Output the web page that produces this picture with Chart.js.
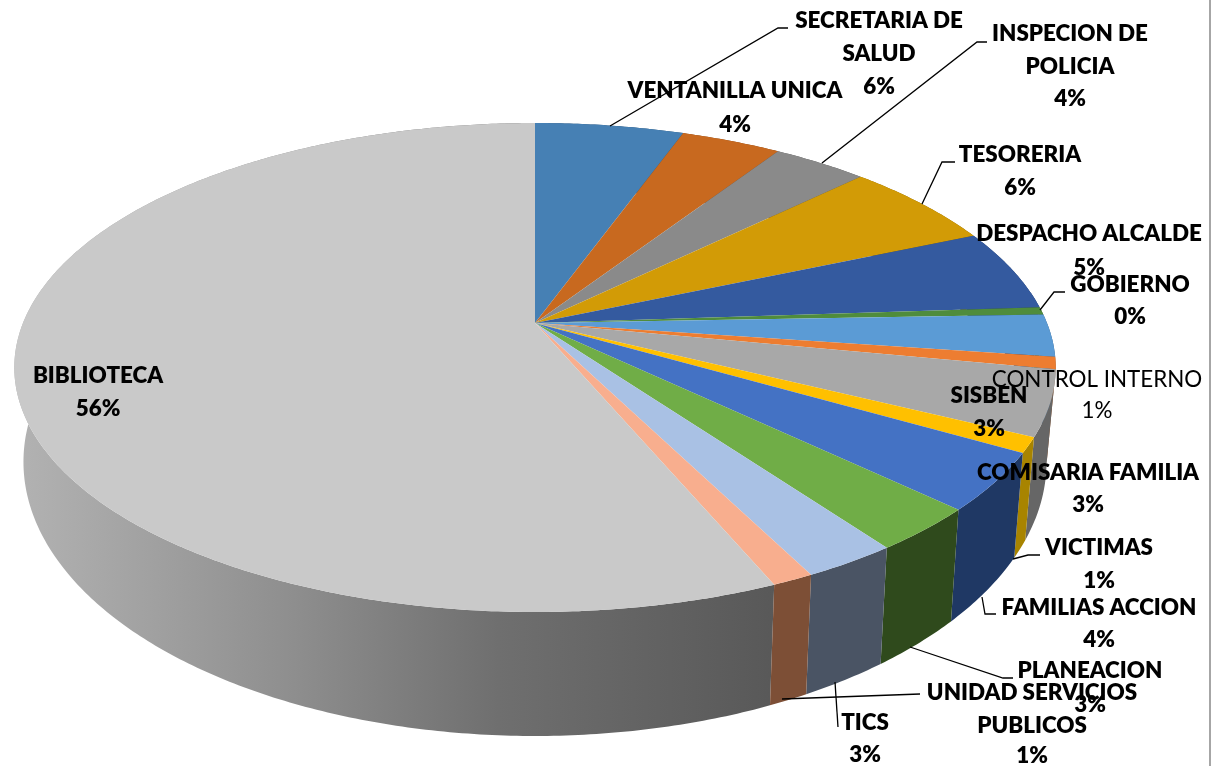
<!DOCTYPE html>
<html>
<head>
<meta charset="utf-8">
<title>Pie</title>
<script src="https://cdn.jsdelivr.net/npm/chart.js@4"></script>
<style>
  html, body { margin: 0; padding: 0; background: #fff; }
  canvas { display: block; }
</style>
</head>
<body>
<canvas id="pie3d" width="1220" height="766"></canvas>
<script>
// dependencias, en el orden del grafico (horario desde arriba)
var dependencias = ['SECRETARIA DE SALUD', 'VENTANILLA UNICA', 'INSPECION DE POLICIA', 'TESORERIA',
    'DESPACHO ALCALDE', 'GOBIERNO', 'COMISARIA FAMILIA', 'CONTROL INTERNO', 'SISBEN', 'VICTIMAS',
    'FAMILIAS ACCION', 'PLANEACION', 'TICS', 'UNIDAD SERVICIOS PUBLICOS', 'BIBLIOTECA'];
// share of each slice
var valores = [5.5, 3.7, 3.5, 5.8, 5.4, 0.5, 2.8, 0.8, 4.3, 1.0, 3.8, 2.9, 2.5, 1.1, 56.3];
// the percentage printed on each label
var porcentajes = ['6%', '4%', '4%', '6%', '5%', '0%', '3%', '1%', '3%', '1%', '4%', '3%', '3%', '1%', '56%'];
var colores = ['#4680b4', '#c8691f', '#8a8a8a', '#d29b06', '#345a9f', '#4f8c3c', '#5b9bd5', '#ed7d31',
    '#a8a8a8', '#ffc000', '#4472c4', '#70ad47', '#a9c1e4', '#f8ae8e', '#c9c9c9'];
var coloresLado = ['#2c4f70', '#7c4013', '#555555', '#826004', '#203864', '#31572a', '#385f84', '#934e1e',
    '#666666', '#a88400', '#1f3864', '#2f4a1c', '#4a5464', '#7d4f36', '#7d7d7d'];

// etiquetas: lines of text, centre x, baselines
var etiquetas = [
    { lineas: ['SECRETARIA DE', 'SALUD'], x: 879, y: [28, 61, 94] },
    { lineas: ['VENTANILLA UNICA'], x: 735, y: [98, 132] },
    { lineas: ['INSPECION DE', 'POLICIA'], x: 1070, y: [41, 74, 106] },
    { lineas: ['TESORERIA'], x: 1020, y: [162, 195] },
    { lineas: ['DESPACHO ALCALDE'], x: 1089, y: [241, 275] },
    { lineas: ['GOBIERNO'], x: 1130, y: [292, 324] },
    { lineas: ['COMISARIA FAMILIA'], x: 1088, y: [480, 512] },
    { lineas: ['CONTROL INTERNO'], x: 1097, y: [387, 418], normal: true },
    { lineas: ['SISBEN'], x: 989, y: [403, 436] },
    { lineas: ['VICTIMAS'], x: 1099, y: [555, 588] },
    { lineas: ['FAMILIAS ACCION'], x: 1099, y: [615, 647] },
    { lineas: ['PLANEACION'], x: 1090, y: [678, 712] },
    { lineas: ['TICS'], x: 865, y: [730, 762] },
    { lineas: ['UNIDAD SERVICIOS', 'PUBLICOS'], x: 1032, y: [700, 733, 763] },
    { lineas: ['BIBLIOTECA'], x: 98, y: [383, 416] }
];
// lineas guia
var guias = [
    [[610, 126], [778, 28], [788, 28]],
    [[822, 163], [977, 42], [987, 42]],
    [[922, 204], [942, 162], [955, 162]],
    [[1040, 310], [1054, 292], [1065, 292]],
    [[1013, 559], [1028, 555], [1040, 555]],
    [[982, 597], [985, 614], [996, 614]],
    [[910, 647], [1003, 678], [1013, 678]],
    [[835, 682], [838, 727]],
    [[782, 699], [920, 694]]
];

// perspective of the top and bottom rings, relative to the arc radius
var K = 0.182;
var anilloSup = { a: 512 / 323, b: 236.4 / 323, dy: 0 };
var anilloInf = { a: 503 / 323, b: 265 / 323, dy: 89 };

function proyectar(el, anillo, ang) {
    var u = Math.cos(ang), v = Math.sin(ang), d = 1 - K * v;
    return {
        x: el.x + anillo.a * el.outerRadius * u / d,
        y: el.y + anillo.dy + anillo.b * el.outerRadius * v / d
    };
}

function trazarAnillo(ctx, el, anillo, desde, hasta) {
    var pasos = Math.max(2, Math.ceil(Math.abs(hasta - desde) / 0.01));
    for (var i = 0; i <= pasos; i++) {
        var p = proyectar(el, anillo, desde + (hasta - desde) * i / pasos);
        ctx.lineTo(p.x, p.y);
    }
}

var pie3d = {
    id: 'pie3d',
    beforeDatasetDraw: function (chart, args) {
        var ctx = chart.ctx;
        var arcos = args.meta.data;

        // lados: de atras hacia adelante
        var orden = arcos.map(function (el, i) { return i; }).sort(function (p, q) {
            return Math.sin((arcos[p].startAngle + arcos[p].endAngle) / 2) -
                Math.sin((arcos[q].startAngle + arcos[q].endAngle) / 2);
        });
        orden.forEach(function (i) {
            var el = arcos[i];
            ctx.beginPath();
            trazarAnillo(ctx, el, anilloSup, el.startAngle, el.endAngle);
            trazarAnillo(ctx, el, anilloInf, el.endAngle, el.startAngle);
            ctx.closePath();
            if (i === arcos.length - 1) {
                var g = ctx.createLinearGradient(20, 0, 780, 0);
                g.addColorStop(0, '#b2b2b2');
                g.addColorStop(0.36, '#8e8e8e');
                g.addColorStop(0.63, '#6f6f6f');
                g.addColorStop(1, '#585858');
                ctx.fillStyle = g;
            } else {
                ctx.fillStyle = coloresLado[i];
            }
            ctx.fill();
        });

        // cara superior
        arcos.forEach(function (el) {
            ctx.beginPath();
            ctx.moveTo(el.x, el.y);
            trazarAnillo(ctx, el, anilloSup, el.startAngle, el.endAngle);
            ctx.closePath();
            ctx.fillStyle = el.options.backgroundColor;
            ctx.fill();
        });
        return false;
    },
    afterDatasetsDraw: function (chart) {
        var ctx = chart.ctx;
        ctx.save();
        // borde derecho del grafico
        ctx.strokeStyle = '#a6a6a6';
        ctx.lineWidth = 2;
        ctx.beginPath();
        ctx.moveTo(1210, 0);
        ctx.lineTo(1210, 766);
        ctx.stroke();

        ctx.strokeStyle = '#000';
        ctx.lineWidth = 1.3;
        guias.forEach(function (g) {
            ctx.beginPath();
            g.forEach(function (p, i) { if (i) ctx.lineTo(p[0], p[1]); else ctx.moveTo(p[0], p[1]); });
            ctx.stroke();
        });
        ctx.fillStyle = '#000';
        ctx.textAlign = 'center';
        ctx.textBaseline = 'alphabetic';
        etiquetas.forEach(function (e, i) {
            ctx.font = (e.normal ? '400 ' : '800 ') + '22.4px Lato';
            e.lineas.concat(porcentajes[i]).forEach(function (t, j) {
                ctx.fillText(t, e.x, e.y[j]);
            });
        });
        ctx.restore();
    }
};

new Chart(document.getElementById('pie3d').getContext('2d'), {
    type: 'pie',
    data: {
        labels: dependencias,
        datasets: [{ data: valores, backgroundColor: colores, borderWidth: 0 }]
    },
    options: {
        responsive: false,
        animation: false,
        layout: { padding: { left: 0, right: 150, top: 0, bottom: 120 } },
        plugins: { legend: { display: false }, tooltip: { enabled: false } }
    },
    plugins: [pie3d]
});
</script>
</body>
</html>
